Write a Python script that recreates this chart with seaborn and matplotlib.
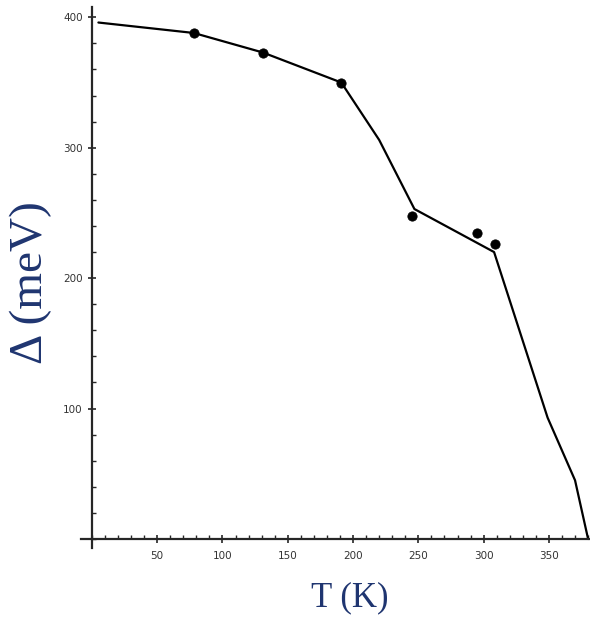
import numpy as np
import pandas as pd
import seaborn as sns
import matplotlib.pyplot as plt
from matplotlib.ticker import MultipleLocator, FixedLocator

# fitted curve
curve_T = [5, 78, 131, 191, 220, 247, 308, 349, 370, 380]
curve_gap = [396, 388, 373, 350, 306, 253, 220, 93, 45, 0]

# measured points
pts_T = [78, 131, 191, 245, 295, 309]
pts_gap = [388, 373, 350, 248, 235, 226]

x_ticks = [50, 100, 150, 200, 250, 300, 350]
y_ticks = [100, 200, 300, 400]

sns.set_style("ticks")
plt.rcParams['font.family'] = ['DejaVu Sans']

fig = plt.figure(figsize=(5.9, 6.25), dpi=100)
ax = fig.add_axes([0.138, 0.123, 0.861, 0.866])

curve = pd.DataFrame({"T": curve_T, "gap": curve_gap})
pts = pd.DataFrame({"T": pts_T, "gap": pts_gap})

sns.lineplot(data=curve, x="T", y="gap", sort=False, color="black", linewidth=1.6, ax=ax)
sns.scatterplot(data=pts, x="T", y="gap", color="black", s=45, edgecolor="black", ax=ax, zorder=3)

ax.set_xlim(-8, 381)
ax.set_ylim(-7, 408)

#mathematica style axes crossing at the origin
for side in ["top", "right"]:
    ax.spines[side].set_visible(False)
ax.spines["left"].set_position(("data", 0))
ax.spines["bottom"].set_position(("data", 0))
ax.spines["left"].set_linewidth(1.6)
ax.spines["bottom"].set_linewidth(1.6)

ax.xaxis.set_major_locator(FixedLocator(x_ticks))
ax.yaxis.set_major_locator(FixedLocator(y_ticks))
ax.xaxis.set_minor_locator(MultipleLocator(10))
ax.yaxis.set_minor_locator(MultipleLocator(20))
ax.tick_params(which="major", direction="inout", length=6, width=1.2, labelsize=7.5, labelcolor="#333333")
ax.tick_params(which="minor", direction="in", length=3, width=1.0)
ax.tick_params(axis="x", pad=6)

ax.set_xlabel("")
ax.set_ylabel("")
fig.text(0.593, 0.043, "T (K)", family=["Liberation Serif"], fontsize=25, color="#1f3570",
         ha="center", va="center")
fig.text(0.052, 0.548, "Δ (meV)", family=["Liberation Serif"], fontsize=34, color="#1f3570",
         ha="center", va="center", rotation=90)

fig.savefig("out.png", dpi=100)
